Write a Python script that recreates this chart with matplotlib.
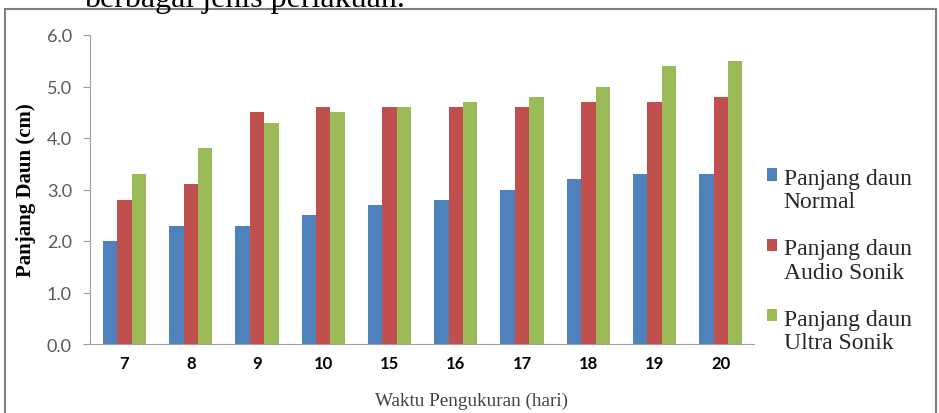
import matplotlib
matplotlib.use("Agg")
import matplotlib.pyplot as plt
from matplotlib.patches import Rectangle
from matplotlib.container import BarContainer
from matplotlib.legend_handler import HandlerPatch, update_from_first_child
import numpy as np

categories = ["7", "8", "9", "10", "15", "16", "17", "18", "19", "20"]
normal = [2.0, 2.3, 2.3, 2.5, 2.7, 2.8, 3.0, 3.2, 3.3, 3.3]
audio = [2.8, 3.1, 4.5, 4.6, 4.6, 4.6, 4.6, 4.7, 4.7, 4.8]
ultra = [3.3, 3.8, 4.3, 4.5, 4.6, 4.7, 4.8, 5.0, 5.4, 5.5]
series_labels = ["Panjang daun\nNormal", "Panjang daun\nAudio Sonik", "Panjang daun\nUltra Sonik"]
colors = ["#4F81BD", "#C0504D", "#9BBB59"]

W, H = 939, 414
fig = plt.figure(figsize=(W / 100, H / 100), dpi=100)

# outer frame
fig.patches.append(Rectangle((5 / W, -0.02), 931 / W, 1 - 10 / H + 0.02,
                             transform=fig.transFigure, fill=False,
                             edgecolor="#808080", linewidth=1.5))
# clipped caption text at top (cut off in the reference too)
fig.text(84 / W, 1 - 7 / H, "berbagai jenis perlakuan.", family="Liberation Serif",
         fontsize=23, va="baseline", ha="left", color="black")

ax = fig.add_axes([90 / W, 1 - 345 / H, (754 - 90) / W, (345 - 36) / H])
x = np.arange(len(categories))
bw = 0.217
for i, (vals, lab, col) in enumerate(zip([normal, audio, ultra], series_labels, colors)):
    ax.bar(x + (i - 1) * bw, vals, width=bw, color=col, label=lab, zorder=2)

ax.set_xlim(-0.52, 9.5)
ax.set_ylim(0, 6)
ax.set_yticks(np.arange(0, 6.01, 1.0))
ax.set_yticklabels([f"{v:.1f}" for v in np.arange(0, 6.01, 1.0)],
                   family="Lato", fontsize=13, color="#595959")
ax.set_xticks(x)
ax.set_xticklabels(categories, family="Lato", fontsize=12, fontweight="bold", color="black")
ax.tick_params(axis="x", length=0, pad=8)
ax.tick_params(axis="y", length=5, color="#A0A0A0", pad=8)
for s in ["top", "right"]:
    ax.spines[s].set_visible(False)
ax.spines["left"].set_color("#A0A0A0")
ax.spines["bottom"].set_color("#A0A0A0")

ax.set_ylabel("Panjang Daun (cm)", family="Liberation Serif", fontsize=15, fontweight="bold")
ax.yaxis.set_label_coords(-54 / (754 - 90), 0.5)
ax.set_xlabel("Waktu Pengukuran (hari)", family="Liberation Serif", fontsize=13.8, color="#404040")
ax.xaxis.set_label_coords(0.575, -0.155)


def top_square(legend, orig_handle, xdescent, ydescent, width, height, fontsize):
    return Rectangle((-xdescent, -ydescent + 0.65 * fontsize), width, height)


leg = ax.legend(loc="upper left", bbox_to_anchor=(1.005, 0.60), frameon=False,
                prop={"family": "Liberation Serif", "size": 17},
                handlelength=0.42, handleheight=0.42, handletextpad=0.3,
                labelspacing=1.1, borderaxespad=0,
                handler_map={BarContainer: HandlerPatch(patch_func=top_square,
                                                        update_func=update_from_first_child)})
for t in leg.get_texts():
    t.set_color("#262626")
    t.set_linespacing(1.15)

fig.savefig("out.png", dpi=100)
